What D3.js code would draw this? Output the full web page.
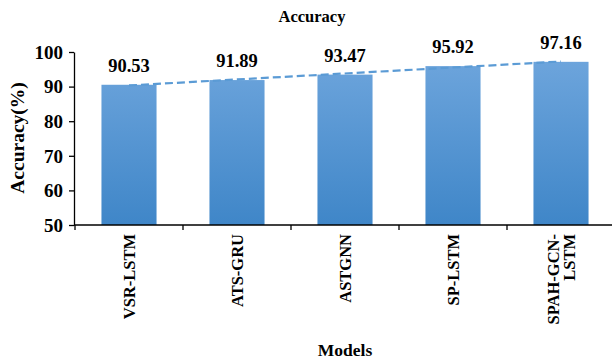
<!DOCTYPE html>
<html>
<head>
<meta charset="utf-8">
<script src="https://cdn.jsdelivr.net/npm/d3@7"></script>
<style>
  html, body { margin: 0; padding: 0; background: #fff; }
  svg { display: block; }
  svg text { font-family: "Times New Roman", "Liberation Serif", Tinos, serif !important; font-weight: 700; fill: #000; }
</style>
</head>
<body>
<svg id="chart" width="613" height="360"></svg>
<script>
// Model names (each inner array is one wrapped label line set)
const categories = ["VSR-LSTM", "ATS-GRU", "ASTGNN", "SP-LSTM", "SPAH-GCN-LSTM"];
const categoryLines = [["VSR-LSTM"], ["ATS-GRU"], ["ASTGNN"], ["SP-LSTM"], ["SPAH-GCN-", "LSTM"]];
const accuracy = [90.53, 91.89, 93.47, 95.92, 97.16];
const yTicks = [50, 60, 70, 80, 90, 100];

const svg = d3.select("#chart");
const plotLeft = 75, plotRight = 615, plotTop = 52, plotBottom = 225;

const x = d3.scaleBand().domain(categories).range([plotLeft, plotRight]).paddingInner(0.49).paddingOuter(0.245);
const y = d3.scaleLinear().domain([50, 100]).range([plotBottom, plotTop]);

// Vertical gradient for bars
const defs = svg.append("defs");
const grad = defs.append("linearGradient").attr("id", "barGrad")
  .attr("gradientUnits", "userSpaceOnUse")
  .attr("x1", 0).attr("x2", 0)
  .attr("y1", plotTop).attr("y2", plotBottom);
grad.append("stop").attr("offset", "0%").attr("stop-color", "#6fa6dd");
grad.append("stop").attr("offset", "100%").attr("stop-color", "#3f86c8");

// Bars
svg.append("g").selectAll("rect").data(accuracy).join("rect")
  .attr("x", (d, i) => x(categories[i]))
  .attr("width", x.bandwidth())
  .attr("y", d => y(d))
  .attr("height", d => y(50) - y(d))
  .attr("fill", "url(#barGrad)");

// Value labels
svg.append("g").selectAll("text").data(accuracy).join("text")
  .attr("x", (d, i) => x(categories[i]) + x.bandwidth() / 2)
  .attr("y", d => y(d) - 13)
  .attr("text-anchor", "middle")
  .attr("font-size", 18.5)
  .text(d => d.toFixed(2));

// Linear trendline through the bar values
const n = accuracy.length;
const xs = d3.range(1, n + 1);
const mx = d3.mean(xs), my = d3.mean(accuracy);
const slope = d3.sum(xs, (v, i) => (v - mx) * (accuracy[i] - my)) / d3.sum(xs, v => (v - mx) ** 2);
const intercept = my - slope * mx;
const trend = xs.map((v, i) => [x(categories[i]) + x.bandwidth() / 2, y(intercept + slope * v)]);
svg.append("path")
  .datum([trend[0], trend[n - 1]])
  .attr("d", d3.line())
  .attr("fill", "none")
  .attr("stroke", "#5b9bd5")
  .attr("stroke-width", 2.2)
  .attr("stroke-dasharray", "8,4");

// Y axis
const yAxis = svg.append("g").attr("transform", `translate(${plotLeft - 1},0)`)
  .call(d3.axisLeft(y).tickValues(yTicks).tickSize(5).tickSizeOuter(0));
yAxis.attr("font-family", null);
yAxis.select(".domain").attr("stroke", "#000").attr("stroke-width", 1.3);
yAxis.selectAll(".tick line").attr("stroke", "#000").attr("stroke-width", 1.3);
yAxis.selectAll(".tick text").attr("font-size", 19)
  .attr("x", -11).attr("dy", "0.33em");

// X axis with ticks between categories
const xAxisG = svg.append("g").attr("transform", `translate(0,${plotBottom})`);
xAxisG.append("line").attr("x1", plotLeft - 1).attr("x2", 612).attr("y1", 0).attr("y2", 0)
  .attr("stroke", "#000").attr("stroke-width", 1.3);
const step = x.step();
const boundaries = d3.range(n).map(i => x(categories[i]) - x.paddingOuter() * step);
xAxisG.selectAll("line.tk").data(boundaries).join("line").attr("class", "tk")
  .attr("x1", d => d).attr("x2", d => d).attr("y1", 0).attr("y2", 5)
  .attr("stroke", "#000").attr("stroke-width", 1.3);

// Rotated category labels
categoryLines.forEach((lines, i) => {
  const cx = x(categories[i]) + x.bandwidth() / 2;
  const t = svg.append("text")
    .attr("transform", `translate(${cx},${plotBottom + 9}) rotate(-90)`)
    .attr("text-anchor", "end")
    .attr("font-size", 16.5);
  const offset = -(lines.length - 1) * 0.5;
  lines.forEach((ln, j) => {
    t.append("tspan").attr("x", 0).attr("dy", j === 0 ? `${offset + 0.35}em` : "1em").text(ln);
  });
});

// Titles
svg.append("text").attr("x", 312).attr("y", 22).attr("text-anchor", "middle")
  .attr("font-size", 16.5).text("Accuracy");
svg.append("text").attr("x", 345).attr("y", 356).attr("text-anchor", "middle")
  .attr("font-size", 17.5).text("Models");
svg.append("text").attr("transform", "translate(24,138) rotate(-90)")
  .attr("text-anchor", "middle").attr("font-size", 19.5).text("Accuracy(%)");
</script>
</body>
</html>
